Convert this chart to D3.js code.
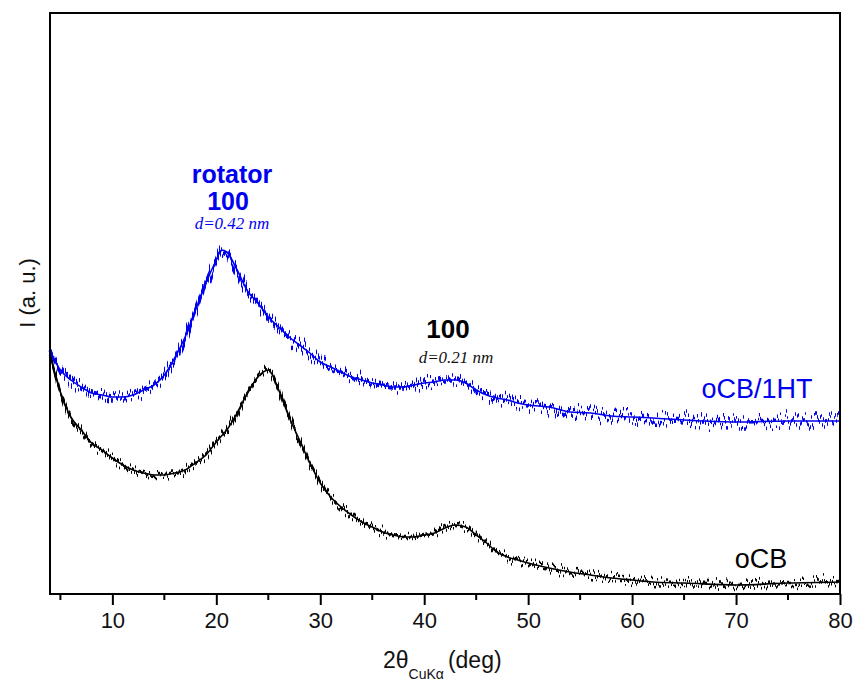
<!DOCTYPE html>
<html>
<head>
<meta charset="utf-8">
<script src="https://cdn.jsdelivr.net/npm/d3@7"></script>
<style>
  body { margin: 0; background: #fff; }
  svg { display: block; font-family: "Liberation Sans", Arial, sans-serif; }
</style>
</head>
<body>
<svg id="chart" width="855" height="682"></svg>
<script>
// 2theta positions (deg)
const angles = [4, 5, 6, 7, 8, 9, 10, 11, 12, 13, 14, 15, 16, 17, 18, 19, 20, 20.5, 21, 22, 23, 24, 25, 26, 27, 28, 29, 30,
  31, 32, 33, 34, 35, 36, 37, 38, 39, 40, 41, 42, 43, 44, 45, 46, 47, 48, 49, 50, 52, 54, 56, 58, 60, 62, 65, 70, 75, 80];

// oCB/1HT (blue), arbitrary units
const ht = [242, 224, 214, 207, 201, 199, 197, 197, 199, 204, 209, 219, 236, 257, 284, 311, 334, 344, 342, 324, 303, 291, 277, 267, 257, 249, 241, 232,
  227, 222, 217, 214, 211, 209, 207, 207, 209, 211, 212, 214, 214, 211, 204, 199, 196, 194, 191, 189, 187, 182, 181, 178, 177, 176, 174, 172, 173, 173];

// oCB (black), arbitrary units
const ocb = [239, 202, 177, 164, 151, 144, 136, 129, 124, 121, 119, 119, 121, 124, 131, 139, 152, 158, 164, 181, 201, 217, 224, 204, 177, 154, 131, 111,
  97, 87, 79, 72, 67, 62, 59, 57, 57, 59, 61, 66, 69, 67, 59, 51, 42, 37, 34, 31, 26, 22, 19, 16, 14, 12, 11, 9, 11, 12];

const xTicks = [10, 20, 30, 40, 50, 60, 70, 80];
const xMinor = [5, 15, 25, 35, 45, 55, 65, 75];

const svg = d3.select("#chart");
const mLeft = 50, mRight = 840, mTop = 13, mBottom = 594;

const x = d3.scaleLinear().domain([4, 80]).range([mLeft, mRight]);
const y = d3.scaleLinear().domain([0, 581]).range([mBottom, mTop]);

// jagged look of the raw scans
const defs = svg.append("defs");
function jitter(id, seed, scale) {
  const f = defs.append("filter").attr("id", id)
    .attr("filterUnits", "userSpaceOnUse")
    .attr("x", mLeft - 5).attr("y", mTop).attr("width", mRight - mLeft + 10).attr("height", mBottom - mTop)
    .attr("color-interpolation-filters", "sRGB");
  f.append("feTurbulence").attr("type", "fractalNoise")
    .attr("baseFrequency", "0.73 0.013").attr("numOctaves", 1).attr("seed", seed).attr("result", "n");
  f.append("feColorMatrix").attr("in", "n").attr("type", "matrix")
    .attr("values", "0 0 0 0 0.5  0 1 0 0 0  0 0 1 0 0  0 0 0 0 1").attr("result", "m");
  f.append("feDisplacementMap").attr("in", "SourceGraphic").attr("in2", "m")
    .attr("scale", scale).attr("xChannelSelector", "R").attr("yChannelSelector", "G");
}
jitter("jb", 3, 34);
jitter("jk", 7, 24);

const line = d3.line().x((d, i) => x(angles[i])).y(d => y(d)).curve(d3.curveMonotoneX);

const g = svg.append("g");
function drawSeries(vals, color, fid, w) {
  g.append("path").datum(vals).attr("d", line)
    .attr("fill", "none").attr("stroke", color).attr("stroke-width", w)
    .attr("filter", `url(#${fid})`);
  g.append("path").datum(vals).attr("d", line)
    .attr("fill", "none").attr("stroke", color).attr("stroke-width", 1.6);
}
drawSeries(ocb, "#000", "jk", 2.6);
drawSeries(ht, "#0000f0", "jb", 3.6);

// frame
svg.append("rect").attr("x", mLeft).attr("y", mTop)
  .attr("width", mRight - mLeft).attr("height", mBottom - mTop)
  .attr("fill", "none").attr("stroke", "#000").attr("stroke-width", 2);

// x axis
const xAxis = svg.append("g").attr("transform", `translate(0,${mBottom})`)
  .call(d3.axisBottom(x).tickValues(xTicks).tickSize(11).tickPadding(7).tickFormat(d3.format("d")));
xAxis.select(".domain").remove();
xAxis.selectAll(".tick line").attr("stroke-width", 2);
xAxis.selectAll(".tick text").attr("font-size", 22).attr("font-family", "Liberation Sans, Arial, sans-serif").attr("fill", "#111");

svg.append("g").selectAll("line").data(xMinor).join("line")
  .attr("x1", d => x(d)).attr("x2", d => x(d))
  .attr("y1", mBottom).attr("y2", mBottom + 6)
  .attr("stroke", "#000").attr("stroke-width", 2);

// axis titles
const xt = svg.append("text").attr("x", 383).attr("y", 668).attr("font-size", 23).attr("fill", "#111");
xt.append("tspan").text("2θ");
xt.append("tspan").attr("font-size", 14).attr("dy", 11).text("CuKα");
xt.append("tspan").attr("dy", -11).attr("dx", 4).text("(deg)");

svg.append("text").attr("transform", "translate(35,293) rotate(-90)")
  .attr("text-anchor", "middle").attr("font-size", 22).attr("fill", "#111").text("I (a. u.)");

// annotations
const ann = svg.append("g").attr("text-anchor", "middle");
ann.append("text").attr("x", 232).attr("y", 183).attr("font-size", 25).attr("font-weight", "bold")
  .attr("fill", "#0000f0").text("rotator");
ann.append("text").attr("x", 228).attr("y", 210).attr("font-size", 25).attr("font-weight", "bold")
  .attr("fill", "#0000f0").text("100");
ann.append("text").attr("x", 232).attr("y", 229).attr("font-size", 17).attr("font-style", "italic")
  .attr("font-family", "Liberation Serif, Times New Roman, serif").attr("fill", "#0000f0").text("d=0.42 nm");

ann.append("text").attr("x", 448).attr("y", 338).attr("font-size", 26).attr("font-weight", "bold")
  .attr("fill", "#000").text("100");
ann.append("text").attr("x", 456).attr("y", 363).attr("font-size", 17).attr("font-style", "italic")
  .attr("font-family", "Liberation Serif, Times New Roman, serif").attr("fill", "#111").text("d=0.21 nm");

ann.append("text").attr("x", 757).attr("y", 398).attr("font-size", 27).attr("fill", "#0000f0").text("oCB/1HT");
ann.append("text").attr("x", 761).attr("y", 568).attr("font-size", 27).attr("fill", "#000").text("oCB");
</script>
</body>
</html>
